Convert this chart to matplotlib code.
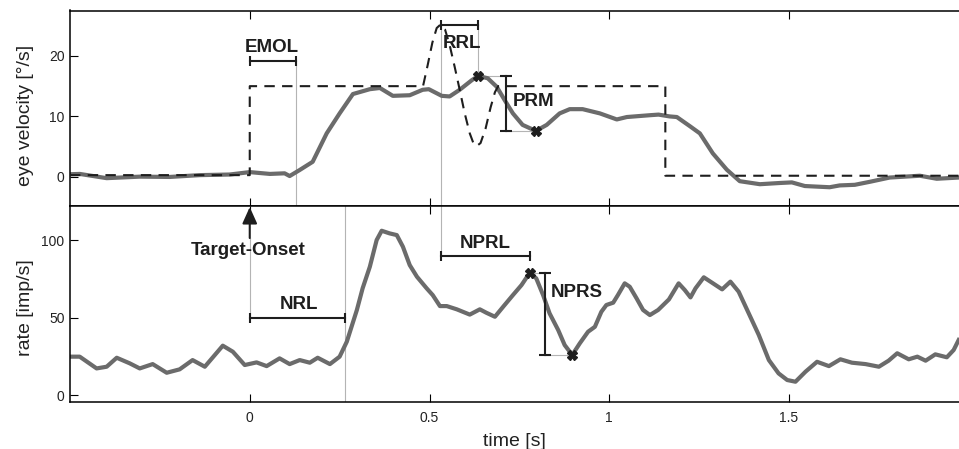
import matplotlib
matplotlib.use("Agg")
import matplotlib.pyplot as plt

plt.rcParams['font.family'] = ['Liberation Sans', 'DejaVu Sans']

# eye velocity trace (deg/s)
eye_t = [-0.50, -0.473, -0.398, -0.306, -0.223, -0.139, -0.056, 0.0, 0.056, 0.097,
         0.111, 0.139, 0.175, 0.214, 0.250, 0.287, 0.334, 0.362, 0.398, 0.445,
         0.481, 0.498, 0.534, 0.556, 0.584, 0.618, 0.636, 0.662, 0.687, 0.709,
         0.732, 0.759, 0.796, 0.826, 0.862, 0.890, 0.926, 0.974, 1.021, 1.049,
         1.113, 1.137, 1.168, 1.188, 1.224, 1.252, 1.288, 1.327, 1.363, 1.419,
         1.474, 1.508, 1.544, 1.613, 1.641, 1.683, 1.725, 1.780, 1.864, 1.911,
         1.972, 2.0]
eye_v = [0.45, 0.5, -0.2, 0.05, 0.0, 0.3, 0.4, 0.8, 0.5, 0.6,
         0.15, 1.15, 2.5, 7.2, 10.5, 13.7, 14.5, 14.7, 13.4, 13.5,
         14.4, 14.5, 13.4, 13.3, 14.4, 16.0, 16.7, 16.3, 14.9, 12.7,
         10.5, 8.6, 7.6, 8.6, 10.5, 11.2, 11.2, 10.5, 9.5, 9.9,
         10.2, 10.3, 10.0, 9.9, 8.4, 7.2, 3.9, 1.2, -0.7, -1.2,
         -1.0, -0.9, -1.5, -1.7, -1.4, -1.3, -0.8, -0.1, 0.2, -0.3,
         -0.1, -0.1]

# target velocity (dashed)
target_t = [-0.5, 0.0, 0.0, 0.482, 0.495, 0.508, 0.520, 0.531, 0.543, 0.556,
            0.570, 0.584, 0.598, 0.612, 0.622, 0.631, 0.642, 0.656, 0.670, 0.682,
            0.691, 1.156, 1.156, 2.0]
target_v = [0.3, 0.3, 15.0, 15.0, 18.5, 22.2, 24.6, 25.2, 24.4, 21.8,
            18.2, 14.4, 10.5, 7.2, 5.6, 5.1, 5.6, 8.0, 11.5, 14.0,
            15.0, 15.0, 0.2, 0.2]

# firing rate (imp/s)
rate_t = [-0.50, -0.473, -0.426, -0.398, -0.370, -0.334, -0.306, -0.270, -0.231, -0.195,
          -0.159, -0.125, -0.075, -0.047, -0.014, 0.019, 0.047, 0.083, 0.111, 0.139,
          0.167, 0.189, 0.223, 0.250, 0.270, 0.298, 0.314, 0.334, 0.353, 0.367,
          0.389, 0.409, 0.426, 0.445, 0.465, 0.492, 0.509, 0.529, 0.548, 0.576,
          0.612, 0.640, 0.658, 0.682, 0.705, 0.732, 0.756, 0.779, 0.797, 0.816,
          0.834, 0.858, 0.876, 0.897, 0.918, 0.941, 0.960, 0.978, 0.992, 1.011,
          1.024, 1.043, 1.057, 1.076, 1.094, 1.113, 1.136, 1.166, 1.193, 1.210,
          1.226, 1.240, 1.263, 1.286, 1.314, 1.337, 1.360, 1.388, 1.416, 1.444,
          1.471, 1.495, 1.518, 1.546, 1.578, 1.611, 1.643, 1.675, 1.713, 1.750,
          1.777, 1.801, 1.833, 1.857, 1.880, 1.907, 1.939, 1.958, 1.972]
rate_r = [24.8, 24.8, 17.2, 18.3, 24.1, 20.5, 17.2, 20.0, 14.4, 16.6,
          22.6, 18.3, 31.9, 28.0, 19.4, 21.1, 18.7, 23.7, 20.0, 22.6,
          20.9, 24.1, 20.0, 24.8, 34.5, 55.0, 69.0, 82.9, 100.2, 106.2,
          104.5, 103.4, 95.9, 84.0, 76.5, 69.0, 64.6, 57.5, 57.5, 55.4,
          52.0, 55.4, 53.2, 50.6, 57.1, 64.6, 71.1, 79.1, 75.4, 64.6,
          52.8, 42.0, 32.3, 25.9, 33.4, 40.9, 44.1, 53.8, 58.2, 59.7,
          64.6, 72.2, 70.0, 62.5, 55.0, 51.7, 55.0, 61.8, 72.2, 67.9,
          63.1, 69.0, 76.1, 72.6, 68.3, 73.3, 66.8, 52.8, 38.8, 22.6,
          14.0, 9.7, 8.6, 15.1, 21.5, 18.7, 23.1, 20.9, 20.0, 18.3,
          22.2, 27.0, 23.1, 24.8, 22.2, 26.3, 24.4, 29.1, 35.6]

# measured events
emol = (0.0, 0.128)
rrl = (0.531, 0.636)
eye_peak = (0.636, 16.7)
eye_trough = (0.796, 7.6)
nrl = (0.0, 0.264)
nprl = (0.531, 0.779)
rate_peak = (0.779, 79.1)
rate_trough = (0.897, 25.9)

trace_col = '#6b6b6b'
thin_col = '#b4b4b4'
ink = '#1e1e1e'

fig = plt.figure(figsize=(9.59, 4.49), dpi=100)
ax1 = fig.add_axes([70 / 959, 243 / 449, 898.75 / 959, 195.5 / 449])
ax2 = fig.add_axes([70 / 959, 46.7 / 449, 898.75 / 959, 196.3 / 449])

for ax in (ax1, ax2):
    ax.set_xlim(-0.5, 2.0)
    ax.set_xticks([0, 0.5, 1, 1.5])
    ax.tick_params(direction='in', top=True, bottom=True, left=True, right=False,
                   length=6, width=0.8, labelsize=10, labelcolor='#222222', pad=4)
    for s in ax.spines.values():
        s.set_linewidth(1.1)
    ax.spines['right'].set_visible(False)
ax1.tick_params(labelbottom=False)
ax2.set_xticklabels(['0', '0.5', '1', '1.5'])
ax2.tick_params(axis='x', pad=6)

# top panel
ax1.set_ylim(-4.8, 27.5)
ax1.set_yticks([0, 10, 20])
ax1.plot([emol[1], emol[1]], [19.2, -4.8], color=thin_col, lw=0.8, zorder=1)
ax1.plot([rrl[0], rrl[0]], [25.1, -4.8], color=thin_col, lw=0.8, zorder=1)
ax1.plot([rrl[1], rrl[1]], [25.1, eye_peak[1]], color=thin_col, lw=0.8, zorder=1)
ax1.plot([eye_peak[0], 0.712], [eye_peak[1]] * 2, color=thin_col, lw=0.8, zorder=1)
ax1.plot([eye_trough[0], 0.712], [eye_trough[1]] * 2, color=thin_col, lw=0.8, zorder=1)

ax1.plot(eye_t, eye_v, color=trace_col, lw=3, zorder=2)
ax1.plot(target_t, target_v, color=ink, lw=1.5, ls=(0, (5, 3.5)), zorder=3)
ax1.plot([eye_peak[0], eye_trough[0]], [eye_peak[1], eye_trough[1]], ls='none',
         marker='X', ms=7, color=ink, zorder=4)

ax1.plot(emol, [19.2, 19.2], '-|', color=ink, lw=1.5, ms=7, mew=1.5, zorder=4)
ax1.text(0.061, 21.4, 'EMOL', ha='center', va='center', fontsize=13.5,
         fontweight='bold', color=ink)
ax1.plot(rrl, [25.1, 25.1], '-|', color=ink, lw=1.5, ms=7, mew=1.5, zorder=4)
ax1.text(0.59, 22.1, 'RRL', ha='center', va='center', fontsize=13.5,
         fontweight='bold', color=ink)
ax1.plot([0.712, 0.712], [eye_peak[1], eye_trough[1]], '-_', color=ink, lw=1.5,
         ms=8, mew=1.5, zorder=4)
ax1.text(0.732, 12.4, 'PRM', ha='left', va='center', fontsize=13.5,
         fontweight='bold', color=ink)

# bottom panel
ax2.set_ylim(-4.7, 122.2)
ax2.set_yticks([0, 50, 100])
ax2.plot([nrl[1], nrl[1]], [-4.7, 122.2], color=thin_col, lw=0.8, zorder=1)
ax2.plot([0, 0], [101.5, 50], color=thin_col, lw=0.8, zorder=1)
ax2.plot([nprl[0], nprl[0]], [122.2, 90], color=thin_col, lw=0.8, zorder=1)
ax2.plot([rate_peak[0], 0.821], [rate_peak[1]] * 2, color=thin_col, lw=0.8, zorder=1)
ax2.plot([rate_trough[0], 0.821], [rate_trough[1]] * 2, color=thin_col, lw=0.8, zorder=1)

ax2.plot(rate_t, rate_r, color=trace_col, lw=3, zorder=2)
ax2.plot([rate_peak[0], rate_trough[0]], [rate_peak[1], rate_trough[1]], ls='none',
         marker='X', ms=7, color=ink, zorder=4)

ax2.plot(nrl, [50, 50], '-|', color=ink, lw=1.5, ms=7, mew=1.5, zorder=4)
ax2.text(0.137, 58.8, 'NRL', ha='center', va='center', fontsize=13.5,
         fontweight='bold', color=ink)
ax2.plot(nprl, [90, 90], '-|', color=ink, lw=1.5, ms=7, mew=1.5, zorder=4)
ax2.text(0.654, 98, 'NPRL', ha='center', va='center', fontsize=13.5,
         fontweight='bold', color=ink)
ax2.plot([0.821, 0.821], [rate_peak[1], rate_trough[1]], '-_', color=ink, lw=1.5,
         ms=8, mew=1.5, zorder=4)
ax2.text(0.838, 66.4, 'NPRS', ha='left', va='center', fontsize=13.5,
         fontweight='bold', color=ink)

ax2.annotate('', xy=(0, 121.5), xytext=(0, 101.5),
             arrowprops=dict(arrowstyle='-|>,head_length=10,head_width=4.5',
                             mutation_scale=1, color=ink, lw=1.5,
                             shrinkA=0, shrinkB=0), zorder=5)
ax2.text(-0.003, 93.7, 'Target-Onset', ha='center', va='center', fontsize=13.5,
         fontweight='bold', color=ink)

fig.text(25 / 959, 1 - 115 / 449, 'eye velocity [°/s]', rotation=90,
         ha='center', va='center', fontsize=14, color='#222222')
fig.text(25 / 959, 1 - 308 / 449, 'rate [imp/s]', rotation=90,
         ha='center', va='center', fontsize=14, color='#222222')
fig.text(514 / 959, 1 - 441 / 449, 'time [s]', ha='center', va='center',
         fontsize=14, color='#222222')

fig.savefig('out.png', dpi=100)
